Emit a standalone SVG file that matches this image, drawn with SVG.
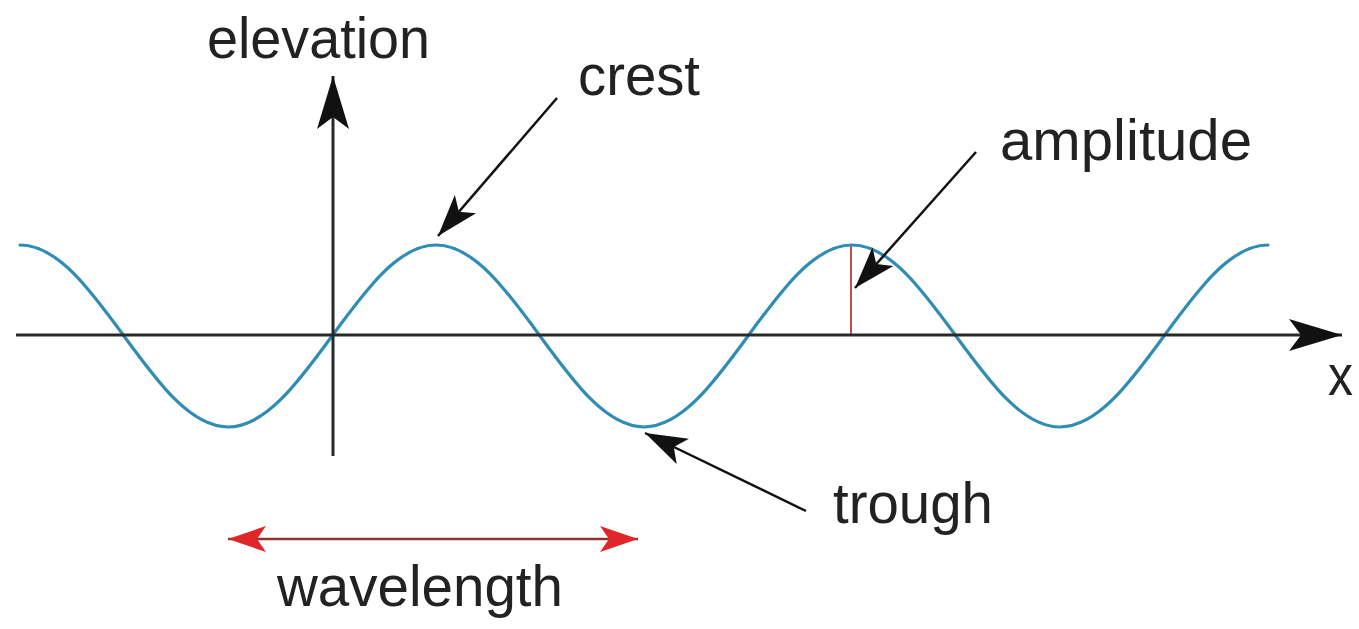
<svg xmlns="http://www.w3.org/2000/svg" width="1359" height="629" viewBox="0 0 1359 629">
  <defs>
    <marker id="axisHead" markerUnits="userSpaceOnUse" viewBox="-54 -18 56 36" refX="0" refY="0" markerWidth="56" markerHeight="36" orient="auto">
      <path d="M0,0 L-53,-16 L-41,0 L-53,16 Z" fill="#111"/>
    </marker>
    <marker id="calloutHead" markerUnits="userSpaceOnUse" viewBox="-44 -16 46 32" refX="0" refY="0" markerWidth="46" markerHeight="32" orient="auto">
      <path d="M0,0 L-42,-14 L-32,0 L-42,14 Z" fill="#111"/>
    </marker>
    <marker id="redHead" markerUnits="userSpaceOnUse" viewBox="-40 -16 42 32" refX="0" refY="0" markerWidth="42" markerHeight="32" orient="auto-start-reverse">
      <path d="M0,0 L-38,-13 L-29,0 L-38,13 Z" fill="#e0262a"/>
    </marker>
  </defs>
  <style>
    .lbl { font-family: "Liberation Sans", Arial, Helvetica, sans-serif; font-size: 58px; fill: #222; }
    .axis { stroke: #2a2a2a; stroke-width: 3; fill: none; }
    .callout { stroke: #111; stroke-width: 2.5; fill: none; }
    .wave { stroke: #2f8cb5; stroke-width: 3.2; fill: none; stroke-linecap: round; }
  </style>
  <rect width="1359" height="629" fill="#ffffff"/>

  <g id="wave">
    <path class="wave" d="M20,245 c37.47,0 70.08,44.38 104,91 c33.92,46.62 66.53,91 104,91 c37.47,0 70.08,-44.38 104,-91 c33.92,-46.62 66.53,-91 104,-91 c37.47,0 70.08,44.38 104,91 c33.92,46.62 66.53,91 104,91 c37.47,0 70.08,-44.38 104,-91 c33.92,-46.62 66.53,-91 104,-91 c37.47,0 70.08,44.38 104,91 c33.92,46.62 66.53,91 104,91 c37.47,0 70.08,-44.38 104,-91 c33.92,-46.62 66.53,-91 104,-91"/>
  </g>

  <g id="amplitude-bar">
    <line x1="851" y1="246" x2="851" y2="335" stroke="#c0504a" stroke-width="2"/>
  </g>

  <g id="connectors">
    <line id="x-axis" class="axis" x1="16" y1="335" x2="1342" y2="335" marker-end="url(#axisHead)"/>
    <line id="elevation-axis" class="axis" x1="333" y1="456" x2="333" y2="76" marker-end="url(#axisHead)"/>
    <line id="crest-arrow" class="callout" x1="557" y1="98" x2="438" y2="236" marker-end="url(#calloutHead)"/>
    <line id="amplitude-arrow" class="callout" x1="976" y1="152" x2="855" y2="288" marker-end="url(#calloutHead)"/>
    <line id="trough-arrow" class="callout" x1="806" y1="511" x2="645" y2="433" marker-end="url(#calloutHead)"/>
    <line id="wavelength-arrow" x1="228" y1="539" x2="638" y2="539" stroke="#8a3434" stroke-width="2.5" marker-start="url(#redHead)" marker-end="url(#redHead)"/>
  </g>

  <g id="label-elevation"><text class="lbl" x="207" y="58" textLength="223" lengthAdjust="spacingAndGlyphs">elevation</text></g>
  <g id="label-crest"><text class="lbl" x="578" y="95" textLength="122" lengthAdjust="spacingAndGlyphs">crest</text></g>
  <g id="label-amplitude"><text class="lbl" x="1000" y="160" textLength="252" lengthAdjust="spacingAndGlyphs">amplitude</text></g>
  <g id="label-trough"><text class="lbl" x="833" y="523" textLength="160" lengthAdjust="spacingAndGlyphs">trough</text></g>
  <g id="label-wavelength"><text class="lbl" x="277" y="606" textLength="286" lengthAdjust="spacingAndGlyphs">wavelength</text></g>
  <g id="label-x"><text class="lbl" x="1328" y="395" textLength="25" lengthAdjust="spacingAndGlyphs">x</text></g>
</svg>
